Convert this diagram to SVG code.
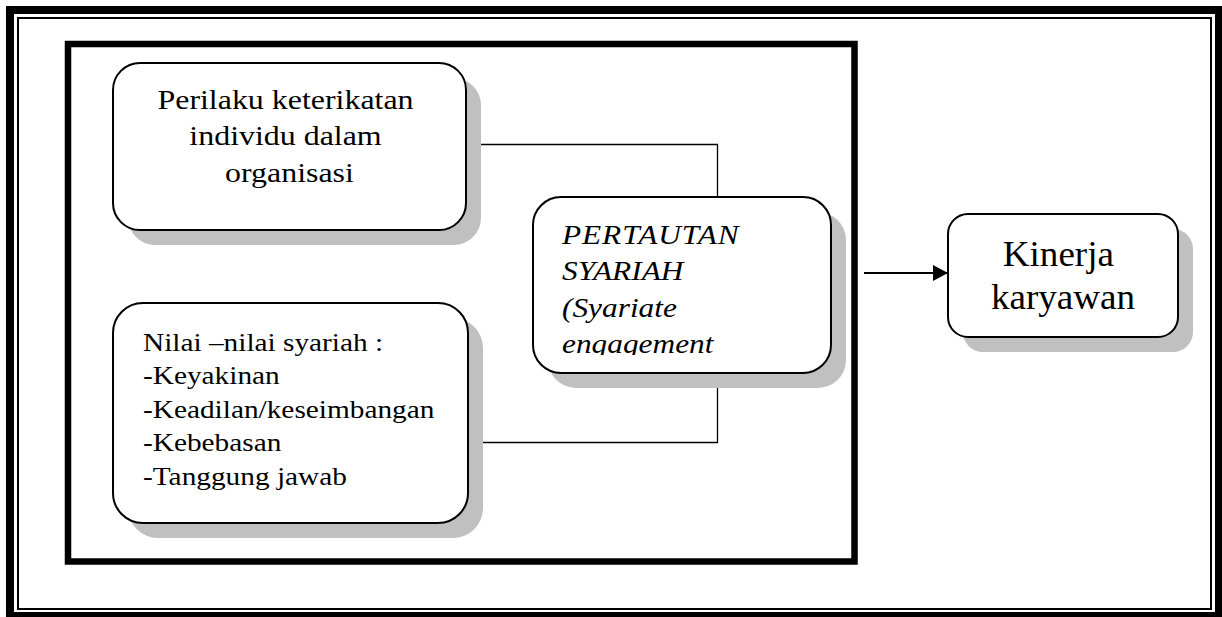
<svg xmlns="http://www.w3.org/2000/svg" width="1222" height="617" viewBox="0 0 1222 617">
  <style>
    .frame-thick { fill: none; stroke: #000; stroke-width: 8; }
    .frame-thin { fill: none; stroke: #000; stroke-width: 2; }
    .inner-frame { fill: none; stroke: #000; stroke-width: 6.5; }
    .shadow { fill: #c0c0c0; stroke: none; }
    .box { fill: #fff; stroke: #000; stroke-width: 2; }
    .label { font-family: "Liberation Serif", "Times New Roman", serif; fill: #000; }
    .conn { fill: none; stroke: #000; stroke-width: 1.3; }
    .arrow { fill: none; stroke: #000; stroke-width: 2; }
  </style>
  <defs>
    <marker id="head" markerUnits="userSpaceOnUse" markerWidth="16" markerHeight="18" refX="15" refY="8" orient="auto">
      <path d="M0,0 L15,8 L0,16 Z" fill="#000"/>
    </marker>
    <clipPath id="clip-pertautan">
      <rect x="540" y="200" width="285" height="155"/>
    </clipPath>
  </defs>

  <rect width="1222" height="617" fill="#fff"/>

  <!-- page border: thick outer line and thin inner line -->
  <rect class="frame-thick" x="10" y="10" width="1209" height="606"/>
  <rect class="frame-thin" x="18" y="18" width="1193" height="591"/>

  <!-- enclosing frame around the engagement block -->
  <rect class="inner-frame" x="68" y="44" width="786.5" height="517.5"/>

  <!-- connectors -->
  <g id="connectors">
    <polyline class="conn" points="466,144.5 717.5,144.5 717.5,197"/>
    <polyline class="conn" points="468,442.5 717.5,442.5 717.5,373"/>
    <line class="arrow" x1="864" y1="273" x2="948" y2="273" marker-end="url(#head)"/>
  </g>

  <!-- Perilaku keterikatan -->
  <g id="node-perilaku">
    <rect class="shadow" x="128" y="78" width="353" height="167" rx="27"/>
    <rect class="box" x="113" y="63" width="353" height="167" rx="27"/>
    <g transform="translate(289.5 0) scale(1.14 1)">
      <text class="label" font-size="28" text-anchor="middle">
        <tspan x="0" y="109">Perilaku keterikatan</tspan>
        <tspan x="0" y="145.5">individu dalam</tspan>
        <tspan x="0" y="182">organisasi</tspan>
      </text>
    </g>
  </g>

  <!-- Nilai-nilai syariah -->
  <g id="node-nilai">
    <rect class="shadow" x="128" y="318" width="355" height="220" rx="30"/>
    <rect class="box" x="113" y="303" width="355" height="220" rx="30"/>
    <g transform="translate(143 0) scale(1.15 1)">
      <text class="label" font-size="25.5">
        <tspan x="0" y="351">Nilai –nilai syariah :</tspan>
        <tspan x="0" y="384.5">-Keyakinan</tspan>
        <tspan x="0" y="418">-Keadilan/keseimbangan</tspan>
        <tspan x="0" y="451.5">-Kebebasan</tspan>
        <tspan x="0" y="485">-Tanggung jawab</tspan>
      </text>
    </g>
  </g>

  <!-- Pertautan syariah -->
  <g id="node-pertautan">
    <rect class="shadow" x="548" y="212" width="298" height="176" rx="28"/>
    <rect class="box" x="533" y="197" width="298" height="176" rx="28"/>
    <g clip-path="url(#clip-pertautan)">
      <g transform="translate(562 0) scale(1.12 1)">
        <text class="label" font-size="28" font-style="italic">
          <tspan x="0" y="244" letter-spacing="0.8">PERTAUTAN</tspan>
          <tspan x="0" y="280.5">SYARIAH</tspan>
          <tspan x="0" y="317">(Syariate</tspan>
          <tspan x="0" y="353.5">engagement</tspan>
        </text>
      </g>
    </g>
  </g>

  <!-- Kinerja karyawan -->
  <g id="node-kinerja">
    <rect class="shadow" x="963" y="229" width="230" height="123" rx="20"/>
    <rect class="box" x="948" y="214" width="230" height="123" rx="20"/>
    <g transform="translate(1063 0) scale(1.06 1)">
      <text class="label" font-size="35" text-anchor="middle">
        <tspan x="0" y="266">Kinerja</tspan>
        <tspan x="0" y="309">karyawan</tspan>
      </text>
    </g>
  </g>
</svg>
